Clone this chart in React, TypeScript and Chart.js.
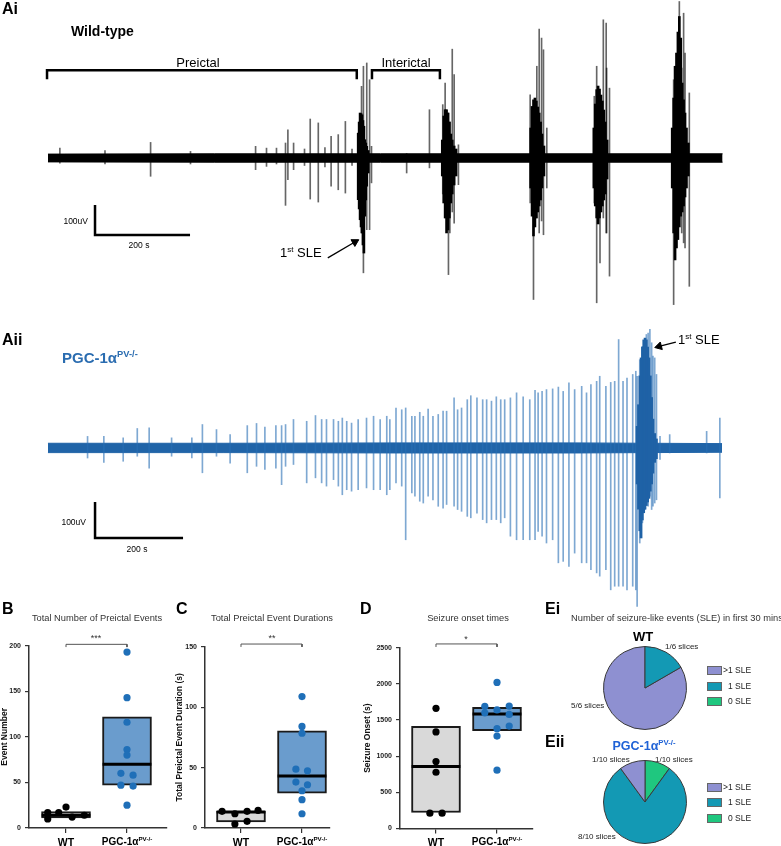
import React, { useEffect, useRef } from 'react';
import { Chart, registerables } from 'chart.js';

Chart.register(...registerables);

const FONT = '"Liberation Sans", Arial, Helvetica, sans-serif';
Chart.defaults.font.family = FONT;

// ---------------- Ai : wild-type trace (time s, amplitude uV) ----------------
const aiNoiseTime = [0, 350, 700, 1050, 1420];
const aiNoiseHi = [13, 14, 14, 14, 14];
const aiNoiseLo = [-13, -14, -14, -14, -14];

const aiSpikeTime = [25, 120, 216, 300, 437, 460, 481, 500, 505, 517, 540, 552, 569, 583, 596, 611, 626, 640,
  660, 664, 671, 677, 681,
  755, 803,
  831, 836, 843, 846, 851, 855, 864,
  1015, 1022, 1029, 1034, 1039, 1043, 1050,
  1150, 1155, 1162, 1169, 1175, 1176, 1182,
  1317, 1329, 1334, 1338, 1341, 1350];
const aiSpikeHi = [33, 25, 52, 22, 39, 33, 33, 50, 94, 50, 30, 130, 117, 35, 72, 78, 122, 30,
  239, 306, 317, 261, 39,
  15, 161,
  178, 250, 150, 120, 363, 278, 44,
  211, 150, 306, 430, 400, 361, 100,
  206, 306, 200, 461, 450, 300, 233,
  261, 522, 300, 483, 350, 217];
const aiSpikeLo = [-17, -20, -61, -20, -39, -28, -20, -158, -72, -39, -25, -137, -147, -30, -94, -106, -117, -25,
  -250, -383, -239, -239, -83,
  -50, -33,
  -120, -200, -389, -250, -180, -217, -89,
  -150, -472, -200, -250, -210, -256, -100,
  -150, -483, -350, -200, -250, -250, -394,
  -489, -200, -250, -283, -300, -428];

const aiBurstTime = [653, 655, 657, 659, 661, 663, 665, 667, 669, 671, 674,
  830, 833, 836, 839, 842, 845, 848, 851, 855, 859,
  1016, 1019, 1022, 1025, 1028, 1031, 1034, 1037, 1040, 1044,
  1149, 1152, 1155, 1158, 1161, 1164, 1167, 1170, 1173, 1177,
  1314, 1317, 1320, 1323, 1326, 1329, 1332, 1335, 1338, 1341, 1344, 1348];
const aiBurstHi = [83, 120, 150, 148, 144, 125, 106, 61, 50, 39, 25,
  60, 140, 161, 161, 150, 120, 80, 60, 40, 30,
  100, 172, 194, 200, 190, 170, 150, 120, 80, 40,
  100, 180, 228, 240, 230, 210, 190, 160, 120, 60,
  100, 200, 306, 350, 420, 472, 400, 250, 194, 150, 100, 50];
const aiBurstLo = [-139, -170, -206, -230, -250, -290, -317, -194, -140, -94, -50,
  -60, -150, -200, -250, -240, -200, -150, -120, -90, -60,
  -100, -194, -260, -230, -200, -180, -160, -140, -100, -60,
  -100, -160, -200, -220, -200, -180, -160, -140, -120, -70,
  -100, -250, -340, -300, -272, -230, -194, -180, -160, -130, -100, -60];

const aiPreictal = [-2, 650];
const aiInterictal = [682, 825];

// ---------------- Aii : PGC-1a PV-/- trace ----------------
const aiiNoiseTime = [0, 400, 800, 1200, 1532];
const aiiNoiseHi = [13, 13, 14, 14, 12];
const aiiNoiseLo = [-13, -13, -14, -14, -12];

const aiiSpikeTime = [90, 127, 171, 203, 230, 281, 327, 351, 383, 414,
  453, 474, 493, 518, 531, 540, 558, 588, 608, 622,
  633, 649, 660, 669, 679, 690, 705, 724, 740, 755,
  770,
  777, 791, 804, 813, 827, 834, 845, 853, 864, 875,
  887, 898, 906, 923, 931, 940, 953, 961, 975, 988,
  997, 1008, 1019, 1029, 1038, 1051, 1065, 1080, 1095, 1107,
  1114, 1123, 1133, 1147, 1160, 1171, 1184, 1197, 1213, 1224,
  1234, 1247, 1254, 1268, 1279, 1288, 1297, 1307, 1316, 1329,
  1336,
  1339, 1345, 1351, 1357, 1360, 1364, 1368, 1372, 1375, 1379,
  1383, 1391, 1413, 1497, 1527];
const aiiSpikeHi = [32, 32, 28, 54, 56, 28, 28, 65, 51, 37,
  62, 68, 58, 62, 62, 65, 79, 74, 90, 79,
  79, 79, 74, 83, 74, 69, 79, 83, 88, 79,
  88,
  79, 111, 106, 111, 88, 88, 99, 88, 108, 88,
  93, 102, 102, 139, 106, 111, 134, 145, 139, 134,
  134, 130, 142, 134, 134, 139, 153, 142, 134, 160,
  153, 157, 162, 164, 169, 157, 181, 162, 171, 153,
  176, 185, 199, 171, 182, 185, 301, 185, 194, 204,
  213,
  199, 245, 282, 301, 315, 319, 329, 292, 255, 250,
  204, 32, 37, 46, 83];
const aiiSpikeLo = [-28, -40, -37, -23, -56, -23, -28, -69, -23, -42,
  -69, -51, -60, -56, -102, -51, -46, -97, -83, -97,
  -106, -88, -106, -130, -116, -120, -116, -111, -116, -116,
  -130,
  -116, -97, -106, -255, -125, -134, -148, -153, -134, -144,
  -162, -167, -157, -162, -171, -176, -190, -194, -181, -199,
  -208, -199, -199, -208, -194, -245, -255, -255, -255, -255,
  -232, -245, -264, -255, -319, -315, -329, -292, -319, -319,
  -338, -347, -356, -338, -394, -384, -384, -384, -394, -384,
  -394,
  -440, -264, -208, -171, -153, -162, -134, -171, -162, -153,
  -144, -32, -14, -14, -139];

const aiiBurstTime = [1339, 1342, 1345, 1348, 1351, 1354, 1357, 1360, 1363, 1366, 1369, 1372, 1375, 1379, 1383];
const aiiBurstHi = [60, 120, 200, 250, 280, 300, 305, 300, 280, 250, 200, 140, 80, 40, 25];
const aiiBurstLo = [-100, -170, -230, -250, -200, -180, -170, -160, -150, -140, -120, -100, -70, -40, -30];

const scaleBarSeconds = 200;
const scaleBarMicrovolts = 100;

// ---------------- B, C, D : box plots ----------------
const groups = ['WT', 'PGC-1α'];

const bWT = [10, 17, 17, 23, 12, 14];
const bWTJitter = [-0.3, -0.3, -0.12, 0, 0.1, 0.3];
const bPGC = [193, 143, 116, 86, 80, 60, 58, 47, 46, 25];
const bPGCJitter = [0, 0, 0, 0, 0, -0.1, 0.1, -0.1, 0.1, 0];
const bBoxLow = [11, 47];
const bBoxHigh = [18, 122];
const bMedian = [14, 70];

const cWT = [13.8, 11.8, 13.8, 14.6, 3.3, 5.5];
const cWTJitter = [-0.31, -0.1, 0.1, 0.28, -0.1, 0.1];
const cPGC = [108.7, 84, 78.4, 48.7, 47.3, 38, 35.8, 30.8, 23.4, 11.8];
const cPGCJitter = [0, 0, 0, -0.1, 0.09, -0.1, 0.09, 0, 0, 0];
const cBoxLow = [5, 28.9];
const cBoxHigh = [13.8, 80.4];
const cMedian = [13.2, 43];

const dWT = [1662, 1335, 925, 778, 212, 212];
const dWTJitter = [0, 0, 0, 0, -0.1, 0.1];
const dPGC = [1690, 1600, 2020, 1640, 1380, 1278, 807, 1693, 1578, 1416];
const dPGCJitter = [-0.2, -0.2, 0, 0, 0, 0, 0, 0.2, 0.2, 0.2];
const dBoxLow = [221, 1352];
const dBoxHigh = [1413, 1675];
const dMedian = [856, 1582];

// ---------------- E : pies ----------------
const sleCategories = ['>1 SLE', '1 SLE', '0 SLE'];
const wtSlices = [5, 1, 0];
const pgcSlices = [1, 8, 1];

const LAV = '#8e90d1';
const TEAL = '#1399b4';
const GREEN = '#1fc77f';
const sleColors = [LAV, TEAL, GREEN];

const WT_FILL = '#d9d9d9';
const PGC_FILL = '#6a9ccd';
const PGC_DOT = '#1f6fb8';

const pts = (xs: number[], ys: number[]) => xs.map((x, i) => ({ x, y: ys[i] }));
const bars = (t: number[], hi: number[], lo: number[]) => t.map((x, i) => ({ x, y: [lo[i], hi[i]] }));

function traceChart(canvas: HTMLCanvasElement, o: any) {
  return new Chart(canvas, {
    type: 'bar',
    data: {
      datasets: [
        { type: 'line', data: pts(o.noiseT, o.noiseHi), borderColor: o.band, borderWidth: 1, pointRadius: 0, fill: '+1', backgroundColor: o.band, order: 10 },
        { type: 'line', data: pts(o.noiseT, o.noiseLo), borderColor: o.band, borderWidth: 1, pointRadius: 0, fill: false, order: 10 },
        { type: 'bar', data: bars(o.spT, o.spHi, o.spLo), backgroundColor: o.spike, barThickness: 1, grouped: false, order: 8 },
        { type: 'bar', data: bars(o.buT, o.buHi, o.buLo), backgroundColor: o.burst, barThickness: 2, grouped: false, order: 7 },
        ...o.extras,
      ],
    } as any,
    options: {
      responsive: false,
      animation: false,
      events: [],
      layout: { padding: 0, autoPadding: false },
      plugins: { legend: { display: false }, tooltip: { enabled: false } },
      scales: {
        x: { type: 'linear', display: false, min: o.xMin, max: o.xMax, offset: false },
        y: { type: 'linear', display: false, min: o.yMin, max: o.yMax },
      },
    } as any,
  });
}

const annot = (data: any[], width: number, extra: any = {}) => ({
  type: 'line', data, borderColor: '#000', borderWidth: width, pointRadius: 0, clip: false, order: 0, ...extra,
});

function boxChart(canvas: HTMLCanvasElement, o: any) {
  const half = 0.4;
  return new Chart(canvas, {
    type: 'bar',
    data: {
      datasets: [
        {
          type: 'bar',
          data: [1, 2].map((x, i) => ({ x, y: [o.low[i], o.high[i]] })),
          backgroundColor: [WT_FILL, PGC_FILL], borderColor: '#1a1a1a', borderWidth: 2, borderSkipped: false,
          barThickness: 49, grouped: false, order: 6,
        },
        ...[1, 2].map((x, i) => ({
          type: 'line', data: [{ x: x - half, y: o.med[i] }, { x: x + half, y: o.med[i] }],
          borderColor: '#000', borderWidth: 3, pointRadius: 0, order: 5,
        })),
        {
          type: 'scatter', data: o.wt.map((v: number, i: number) => ({ x: 1 + o.wtJ[i], y: v })),
          pointRadius: 3.6, backgroundColor: '#000', pointBorderWidth: 0, order: 2, clip: false,
        },
        {
          type: 'scatter', data: o.pgc.map((v: number, i: number) => ({ x: 2 + o.pgcJ[i], y: v })),
          pointRadius: 3.6, backgroundColor: PGC_DOT, pointBorderWidth: 0, order: 2, clip: false,
        },
        {
          type: 'line', data: [{ x: 1, y: o.br[0] }, { x: 1, y: o.br[1] }, { x: 2, y: o.br[1] }, { x: 2, y: o.br[0] }],
          borderColor: '#555', borderWidth: 1, pointRadius: 0, clip: false, order: 1,
        },
      ],
    } as any,
    options: {
      responsive: false,
      animation: false,
      events: [],
      layout: { padding: { top: o.padTop, right: o.padRight, left: 0, bottom: 0 }, autoPadding: false },
      plugins: { legend: { display: false }, tooltip: { enabled: false } },
      scales: {
        x: {
          type: 'linear', min: o.xMin, max: o.xMax, offset: false,
          afterBuildTicks: (s: any) => { s.ticks = [{ value: 1 }, { value: 2 }]; },
          ticks: { callback: () => '', font: { size: 1 } },
          grid: { drawOnChartArea: false, tickLength: 5, color: '#333', lineWidth: 1.2, offset: false },
          border: { display: true, color: '#333', width: 1.5 },
          afterFit: (s: any) => { s.height = o.xHeight; },
        },
        y: {
          type: 'linear', min: 0, max: o.yMax,
          ticks: { stepSize: o.step, font: { size: 7, weight: 'bold' }, color: '#222', padding: 4, callback: (v: any) => String(v) },
          grid: { drawOnChartArea: false, tickLength: 4, color: '#333', lineWidth: 1.2 },
          border: { display: true, color: '#333', width: 1.5 },
          title: { display: true, text: o.yTitle, font: { size: 8.5, weight: 'bold', lineHeight: 1 }, color: '#111', padding: { top: o.titlePad, bottom: 0 } },
          afterFit: (s: any) => { s.width = o.yWidth; },
        },
      },
    } as any,
  });
}

function pieChart(canvas: HTMLCanvasElement, values: number[], colors: string[], labels: string[], rotation: number) {
  return new Chart(canvas, {
    type: 'pie',
    data: { labels, datasets: [{ data: values, backgroundColor: colors, borderColor: '#3a3a3a', borderWidth: 1 }] },
    options: {
      responsive: false, animation: false, events: [], rotation,
      layout: { padding: 0 },
      plugins: { legend: { display: false }, tooltip: { enabled: false } },
    } as any,
  });
}

function T(p: { x: number; y: number; s: number; b?: boolean; c?: string; a?: 'left' | 'center' | 'right'; children: any }) {
  const tx = p.a === 'center' ? '-50%' : p.a === 'right' ? '-100%' : '0';
  return (
    <div style={{
      position: 'absolute', left: p.x, top: p.y, transform: `translate(${tx},-50%)`, fontSize: p.s,
      fontWeight: p.b ? 'bold' : 'normal', color: p.c || '#000', lineHeight: 1, whiteSpace: 'nowrap', fontFamily: FONT,
    }}>{p.children}</div>
  );
}

const Sup = ({ children }: any) => (
  <sup style={{ fontSize: '0.62em', verticalAlign: '0.6em', lineHeight: 0 }}>{children}</sup>
);

function Legend({ x, y0, dy }: { x: number; y0: number; dy: number }) {
  return (
    <>
      {sleCategories.map((c, i) => (
        <React.Fragment key={c}>
          <div style={{ position: 'absolute', left: x, top: y0 + i * dy - 4, width: 13, height: 7, background: sleColors[i], border: '1px solid #666' }} />
          <T x={x + (i === 0 ? 16 : 21)} y={y0 + i * dy} s={8.5} c="#222">{c}</T>
        </React.Fragment>
      ))}
    </>
  );
}

export default function App() {
  const aiRef = useRef<HTMLCanvasElement>(null);
  const aiiRef = useRef<HTMLCanvasElement>(null);
  const bRef = useRef<HTMLCanvasElement>(null);
  const cRef = useRef<HTMLCanvasElement>(null);
  const dRef = useRef<HTMLCanvasElement>(null);
  const eiRef = useRef<HTMLCanvasElement>(null);
  const eiiRef = useRef<HTMLCanvasElement>(null);

  useEffect(() => {
    const charts: Chart[] = [];
    // Ai
    const aiBarT0 = 99, aiBarY0 = -257;
    charts.push(traceChart(aiRef.current!, {
      xMin: -101, xMax: 1543, yMin: -507, yMax: 527,
      noiseT: aiNoiseTime, noiseHi: aiNoiseHi, noiseLo: aiNoiseLo, band: '#000',
      spT: aiSpikeTime, spHi: aiSpikeHi, spLo: aiSpikeLo, spike: 'rgba(0,0,0,0.6)',
      buT: aiBurstTime, buHi: aiBurstHi, buLo: aiBurstLo, burst: '#000',
      extras: [
        annot([{ x: aiPreictal[0], y: 263 }, { x: aiPreictal[0], y: 293 }, { x: aiPreictal[1], y: 293 }, { x: aiPreictal[1], y: 263 }], 2.5),
        annot([{ x: aiInterictal[0], y: 263 }, { x: aiInterictal[0], y: 293 }, { x: aiInterictal[1], y: 293 }, { x: aiInterictal[1], y: 263 }], 2.5),
        annot([{ x: aiBarT0, y: aiBarY0 + scaleBarMicrovolts }, { x: aiBarT0, y: aiBarY0 }, { x: aiBarT0 + scaleBarSeconds, y: aiBarY0 }], 2.5),
        annot([{ x: 589, y: -333 }, { x: 646, y: -280 }], 1.3, {
          pointRadius: [0, 4.5], pointStyle: 'triangle', pointRotation: [0, 60], pointBackgroundColor: '#000', pointBorderColor: '#000', pointBorderWidth: 1,
        }),
      ],
    }));
    // Aii
    const aiiBarT0 = 107, aiiBarY0 = -250;
    charts.push(traceChart(aiiRef.current!, {
      xMin: -109, xMax: 1666, yMin: -450, yMax: 383,
      noiseT: aiiNoiseTime, noiseHi: aiiNoiseHi, noiseLo: aiiNoiseLo, band: '#2064a8',
      spT: aiiSpikeTime, spHi: aiiSpikeHi, spLo: aiiSpikeLo, spike: 'rgba(40,110,180,0.6)',
      buT: aiiBurstTime, buHi: aiiBurstHi, buLo: aiiBurstLo, burst: '#1f62a6',
      extras: [
        annot([{ x: aiiBarT0, y: aiiBarY0 + scaleBarMicrovolts }, { x: aiiBarT0, y: aiiBarY0 }, { x: aiiBarT0 + scaleBarSeconds, y: aiiBarY0 }], 2.5),
        annot([{ x: 1427, y: 294 }, { x: 1389, y: 282 }], 1.3, {
          pointRadius: [0, 4.5], pointStyle: 'triangle', pointRotation: [0, 255], pointBackgroundColor: '#000', pointBorderColor: '#000', pointBorderWidth: 1,
        }),
      ],
    }));
    // B
    charts.push(boxChart(bRef.current!, {
      yMax: 200, step: 50, yTitle: 'Event Number', titlePad: 0, yWidth: 29, padTop: 15.7, padRight: 8, xHeight: 17,
      xMin: 0.393, xMax: 2.656, wt: bWT, wtJ: bWTJitter, pgc: bPGC, pgcJ: bPGCJitter,
      low: bBoxLow, high: bBoxHigh, med: bMedian, br: [198.5, 201.5],
    }));
    // C
    charts.push(boxChart(cRef.current!, {
      yMax: 150, step: 50, yTitle: 'Total Preictal Event Duration (s)', titlePad: 5.5, yWidth: 35, padTop: 16.7, padRight: 5, xHeight: 17,
      xMin: 0.41, xMax: 2.459, wt: cWT, wtJ: cWTJitter, pgc: cPGC, pgcJ: cPGCJitter,
      low: cBoxLow, high: cBoxHigh, med: cMedian, br: [149.8, 152.2],
    }));
    // D
    charts.push(boxChart(dRef.current!, {
      yMax: 2500, step: 500, yTitle: 'Seizure Onset (s)', titlePad: 5, yWidth: 42, padTop: 17.7, padRight: 5, xHeight: 16.5,
      xMin: 0.41, xMax: 2.59, wt: dWT, wtJ: dWTJitter, pgc: dPGC, pgcJ: dPGCJitter,
      low: dBoxLow, high: dBoxHigh, med: dMedian, br: [2510, 2552],
    }));
    // E
    charts.push(pieChart(eiRef.current!, wtSlices, sleColors, sleCategories, 60));
    charts.push(pieChart(eiiRef.current!, [...pgcSlices].reverse(), [...sleColors].reverse(), [...sleCategories].reverse(), 0));
    return () => charts.forEach((c) => c.destroy());
  }, []);

  const abs = (l: number, t: number): React.CSSProperties => ({ position: 'absolute', left: l, top: t });
  const pgcLabel = (<>PGC-1α<Sup>PV-/-</Sup></>);

  return (
    <div style={{ position: 'absolute', left: 0, top: 0, width: 781, height: 846, background: '#fff', overflow: 'hidden', fontFamily: FONT }}>
      <canvas ref={aiRef} width={781} height={310} style={abs(0, 0)} />
      <canvas ref={aiiRef} width={781} height={300} style={abs(0, 310)} />
      <canvas ref={bRef} width={175} height={215} style={abs(0, 630)} />
      <canvas ref={cRef} width={165} height={215} style={abs(170, 630)} />
      <canvas ref={dRef} width={180} height={215} style={abs(358, 630)} />
      <canvas ref={eiRef} width={84} height={84} style={abs(603, 645.5)} />
      <canvas ref={eiiRef} width={84} height={84} style={abs(602.5, 760)} />

      {/* Ai */}
      <T x={2} y={9} s={16} b>Ai</T>
      <T x={71} y={31} s={14} b>Wild-type</T>
      <T x={198} y={62} s={13} a="center">Preictal</T>
      <T x={406} y={62} s={13} a="center">Interictal</T>
      <T x={88} y={221} s={8.5} a="right">100uV</T>
      <T x={139} y={245} s={8.5} a="center">200 s</T>
      <T x={280} y={252} s={13}>1<Sup>st</Sup> SLE</T>

      {/* Aii */}
      <T x={2} y={340} s={16} b>Aii</T>
      <T x={62} y={357} s={15} b c="#2a6cb0">{pgcLabel}</T>
      <T x={86} y={522} s={8.5} a="right">100uV</T>
      <T x={137} y={549} s={8.5} a="center">200 s</T>
      <T x={678} y={339} s={13}>1<Sup>st</Sup> SLE</T>

      {/* B C D */}
      <T x={2} y={609} s={16} b>B</T>
      <T x={176} y={609} s={16} b>C</T>
      <T x={360} y={609} s={16} b>D</T>
      <T x={97} y={619} s={9.3} a="center" c="#333">Total Number of Preictal Events</T>
      <T x={272} y={619} s={9.3} a="center" c="#333">Total Preictal Event Durations</T>
      <T x={468} y={619} s={9.3} a="center" c="#333">Seizure onset times</T>
      <T x={96} y={638} s={9} a="center" c="#333">***</T>
      <T x={272} y={638} s={9} a="center" c="#333">**</T>
      <T x={466} y={639} s={9} a="center" c="#333">*</T>
      {[[66, 127], [241, 302], [436, 497]].map(([a, b], i) => (
        <React.Fragment key={i}>
          <T x={a} y={842} s={10.5} b a="center">{groups[0]}</T>
          <T x={b} y={842} s={10} b a="center">{pgcLabel}</T>
        </React.Fragment>
      ))}

      {/* E */}
      <T x={545} y={609} s={16} b>Ei</T>
      <T x={571} y={619} s={9.3} c="#333">Number of seizure-like events (SLE) in first 30 mins</T>
      <T x={643} y={636} s={13} b a="center">WT</T>
      <T x={665} y={647} s={8} c="#222">1/6 slices</T>
      <T x={571} y={706} s={8} c="#222">5/6 slices</T>
      <Legend x={707} y0={670} dy={15.5} />

      <T x={545} y={742} s={16} b>Eii</T>
      <T x={644} y={746} s={12.5} b a="center" c="#1f62d6">{pgcLabel}</T>
      <T x={592} y={760} s={8} c="#222">1/10 slices</T>
      <T x={655} y={760} s={8} c="#222">1/10 slices</T>
      <T x={578} y={837} s={8} c="#222">8/10 slices</T>
      <Legend x={707} y0={786.5} dy={15.7} />
    </div>
  );
}
